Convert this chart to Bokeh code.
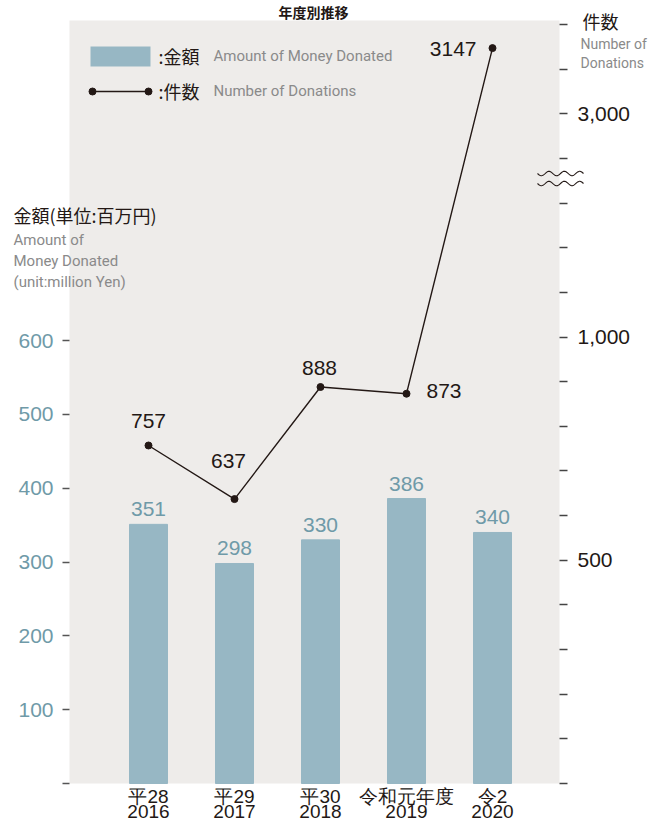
import numpy as np
from bokeh.plotting import figure
from bokeh.models import Range1d, LinearAxis, FixedTicker, ColumnDataSource
from bokeh.embed import file_html
from bokeh.resources import INLINE
from bokeh.core.properties import value

# ---------------- data ----------------
era_labels = ["平28", "平29", "平30", "令和元年度", "令2"]
year_labels = ["2016", "2017", "2018", "2019", "2020"]
money = [351, 298, 330, 386, 340]          # million yen
counts = [757, 637, 888, 873, 3147]        # number of donations
money_ticks = [0, 100, 200, 300, 400, 500, 600]
count_ticks = [0, 100, 200, 300, 400, 500, 600, 700, 800, 900, 1000, 1100, 1200, 1300,
               2900, 3000, 3100, 3200]
count_tick_labels = {500: "500", 1000: "1,000", 3000: "3,000"}
BREAK_AT = 2000      # values above the axis break
BREAK_SHIFT = 1500   # are drawn this much lower

def tc(v):
    return v - BREAK_SHIFT if v >= BREAK_AT else v

# ---------------- style ----------------
BG = "#eeecea"
BAR = "#97b7c4"
BLUE_TXT = "#6f9aa8"
DARK = "#231815"
GRAY = "#8a8a8a"
NUM_FONT = "Liberation Sans"
CJK_FONT = "Noto Sans CJK JP"
EN_FONT = "Roboto"

W, H = 652, 822
# pixel geometry of the grey plotting area
FX0, FX1, FY0, FY1 = 69, 559, 20, 783
X0, XS = 148, 86          # px of first category, spacing
YS_M = 0.7383             # px per million yen
YS_C = 0.4465             # px per donation

def dx(px):
    return (px - X0) / XS

def dy(py):
    return (FY1 - py) / YS_M

idx = list(range(len(money)))
tcounts = [tc(v) for v in counts]

p = figure(width=W, height=H, title=None,
           x_range=Range1d(dx(0), dx(W)),
           y_range=Range1d(dy(H), dy(0)),
           output_backend="svg", toolbar_location=None, min_border=0,
           background_fill_color="white", border_fill_color="white", outline_line_color=None)
p.extra_y_ranges = {"count": Range1d((FY1 - H) / YS_C, FY1 / YS_C)}
p.xgrid.visible = False
p.ygrid.visible = False

# grey plotting area
p.quad(left=dx(FX0), right=dx(FX1), bottom=0, top=dy(FY0), color=BG, line_color=None)

# left axis
ya = p.yaxis[0]
ya.fixed_location = dx(FX0)
ya.ticker = FixedTicker(ticks=money_ticks)
ya.major_label_overrides = {0: ""}
ya.axis_line_color = None
ya.major_tick_in = 0
ya.major_tick_out = 7
ya.major_tick_line_color = "#555555"
ya.major_tick_line_width = 1.5
ya.minor_tick_line_color = None
ya.major_label_text_color = BLUE_TXT
ya.major_label_text_font = NUM_FONT
ya.major_label_text_font_size = "21px"
ya.major_label_standoff = 9

# right axis (counts, with break)
ra = LinearAxis(y_range_name="count", fixed_location=dx(FX1),
                ticker=FixedTicker(ticks=[tc(v) for v in count_ticks]),
                major_label_overrides={tc(v): count_tick_labels.get(v, "") for v in count_ticks})
ra.axis_line_color = None
ra.major_tick_in = 0
ra.major_tick_out = 8
ra.major_tick_line_color = "#444444"
ra.major_tick_line_width = 1.5
ra.minor_tick_line_color = None
ra.major_label_text_color = DARK
ra.major_label_text_font = NUM_FONT
ra.major_label_text_font_size = "21px"
ra.major_label_standoff = 10
p.add_layout(ra, "right")

# bottom axes (two rows)
xa = p.xaxis[0]
for ax, labels, standoff in ((xa, era_labels, 2), (None, year_labels, 21)):
    if ax is None:
        ax = LinearAxis()
        p.add_layout(ax, "below")
    ax.fixed_location = 0
    ax.ticker = FixedTicker(ticks=idx)
    ax.major_label_overrides = {i: labels[i] for i in idx}
    ax.axis_line_color = None
    ax.major_tick_line_color = None
    ax.minor_tick_line_color = None
    ax.major_tick_in = 0
    ax.major_tick_out = 0
    ax.minor_tick_in = 0
    ax.minor_tick_out = 0
    ax.major_label_text_color = DARK
    ax.major_label_text_font = NUM_FONT
    ax.major_label_text_font_size = "19px"
    ax.major_label_standoff = standoff

# bars
src = ColumnDataSource(dict(x=idx, money=money, mlab=[str(v) for v in money],
                            c=tcounts))
p.vbar(x="x", top="money", width=38 / XS, color=BAR, source=src)
p.text(x="x", y="money", text="mlab", source=src, text_align="center",
       text_baseline="middle", y_offset=-15, text_color=BLUE_TXT,
       text_font=value(NUM_FONT), text_font_size="21px")

# line
p.line(x="x", y="c", y_range_name="count", source=src, line_color=DARK, line_width=1.4)
p.scatter(x="x", y="c", y_range_name="count", source=src, size=7, color=DARK)

lab_offsets = [(0, -24, "center"), (-6, -38, "center"), (-1, -19, "center"),
               (20, -3, "left"), (-16, 1, "right")]
for i in idx:
    ox, oy, al = lab_offsets[i]
    p.text(x=[idx[i]], y=[tcounts[i]], text=[str(counts[i])], y_range_name="count",
           x_offset=ox, y_offset=oy, text_align=al, text_baseline="middle",
           text_color=DARK, text_font=value(NUM_FONT), text_font_size="21px")

# legend
p.quad(left=dx(90), right=dx(150), bottom=dy(66), top=dy(46), color=BAR, line_color=None)
p.line(x=[dx(92), dx(148)], y=[dy(91), dy(91)], line_color=DARK, line_width=1.4)
p.scatter(x=[dx(92), dx(148)], y=[dy(91), dy(91)], size=7, color=DARK)

def lab(text, px, py, size, color, font, align="left", style="normal"):
    p.text(x=[dx(px)], y=[dy(py)], text=[text], text_align=align,
           text_baseline="middle", text_font_size=size, text_color=color,
           text_font=value(font), text_font_style=style)

lab(":金額", 158, 55, "18px", DARK, CJK_FONT)
lab("Amount of Money Donated", 213, 55, "15px", GRAY, EN_FONT)
lab(":件数", 158, 90, "18px", DARK, CJK_FONT)
lab("Number of Donations", 213, 90, "15px", GRAY, EN_FONT)

# axis titles
lab("金額(単位:百万円)", 13, 214, "18px", DARK, CJK_FONT)
lab("Amount of", 13, 239, "15px", GRAY, EN_FONT)
lab("Money Donated", 13, 260, "15px", GRAY, EN_FONT)
lab("(unit:million Yen)", 13, 281, "15px", GRAY, EN_FONT)
lab("件数", 582, 20, "18px", DARK, CJK_FONT)
lab("Number of", 580, 43, "14px", GRAY, EN_FONT)
lab("Donations", 580, 62, "14px", GRAY, EN_FONT)

# chart title
lab("年度別推移", 313, 11, "14px", DARK, CJK_FONT, align="center", style="bold")

# axis-break wave marks
wx = np.linspace(537, 583, 80)
for cy in (173, 183):
    wy = cy + 2.2 * np.sin((wx - 537) / 46 * 3 * 2 * np.pi)
    p.line(x=dx(wx), y=dy(wy), line_color=DARK, line_width=1.1)

open("out.html", "w").write(file_html(p, INLINE))
